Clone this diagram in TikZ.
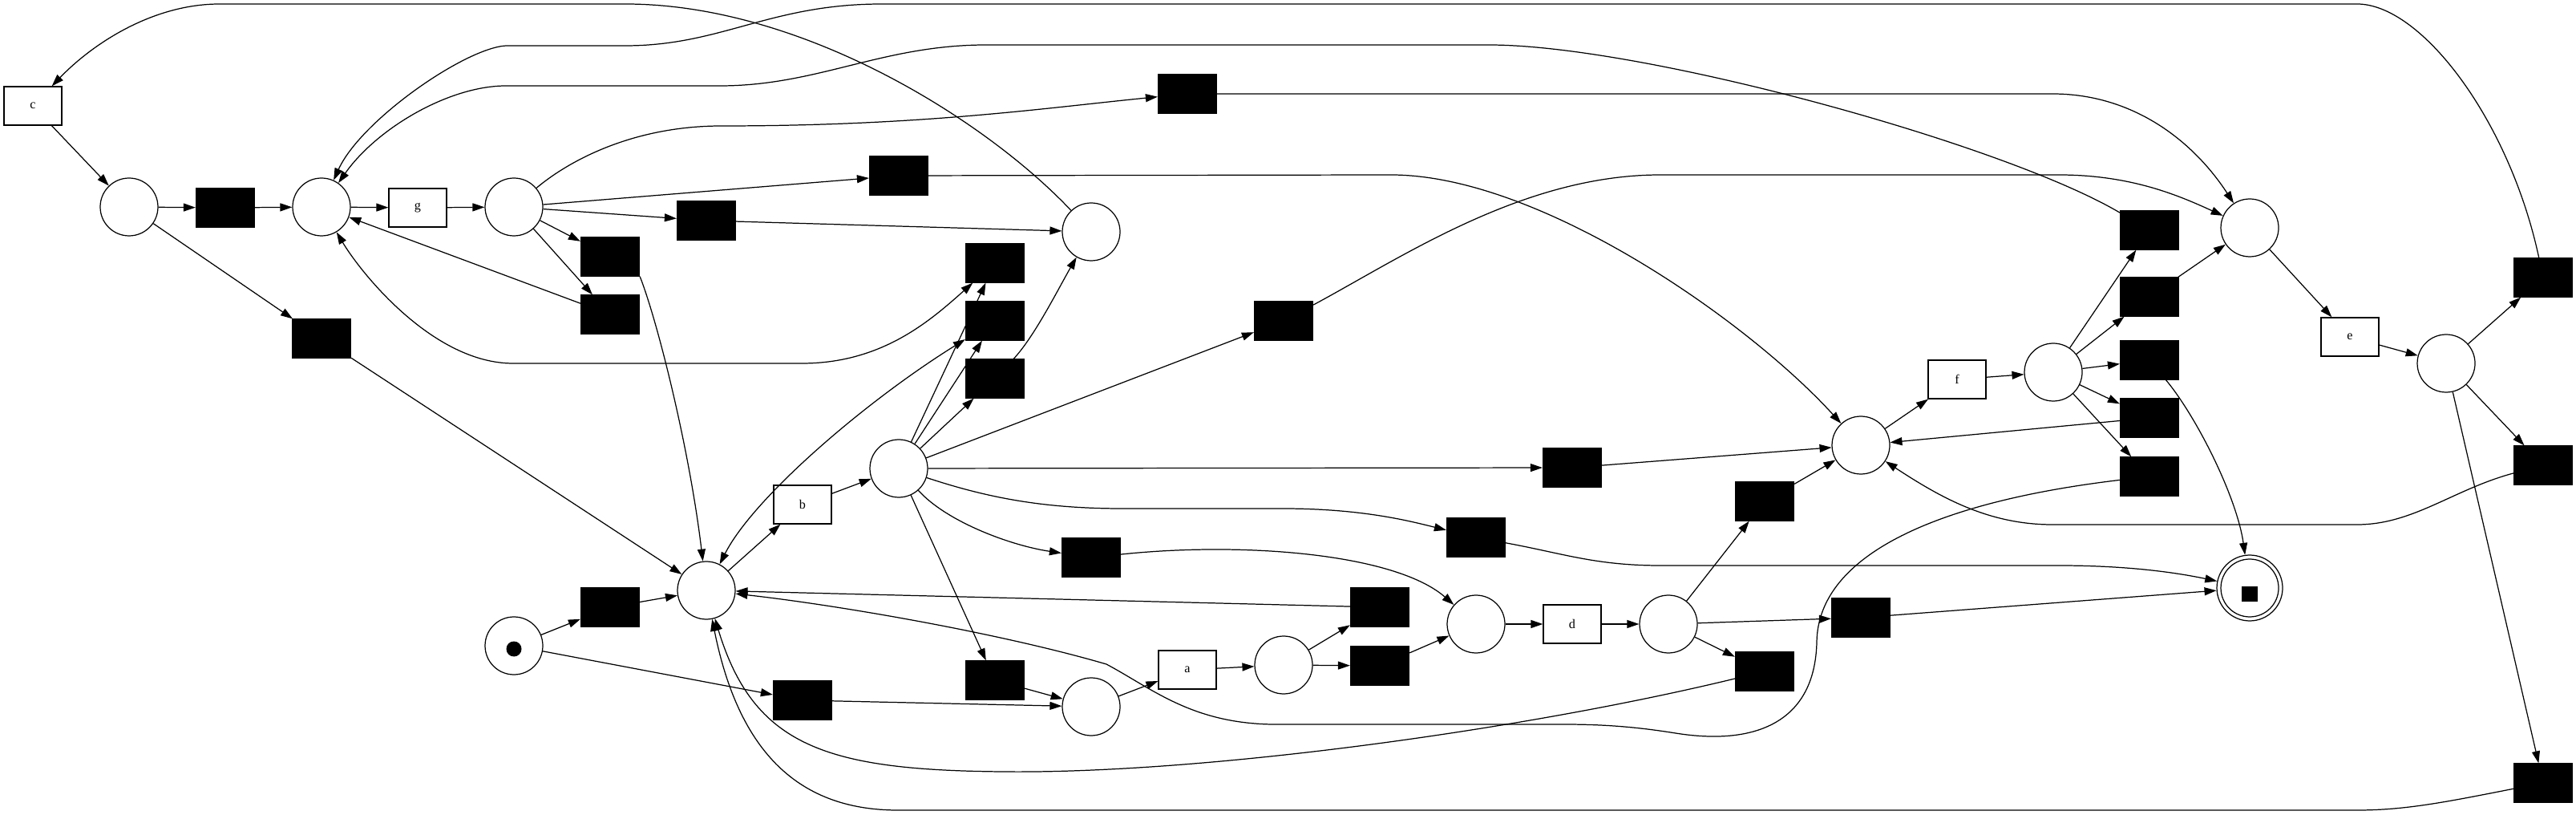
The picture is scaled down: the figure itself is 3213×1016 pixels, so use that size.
\documentclass[tikz,border=0pt]{standalone}
\usepackage{fontspec}
\setmainfont{Liberation Serif}
\usetikzlibrary{arrows.meta}

\begin{document}
\begin{tikzpicture}[x=0.1mm,y=-0.1mm,line width=0.35pt,
  pl/.style={circle,draw,minimum size=7.2mm,inner sep=0pt},
  lab/.style={draw,fill=white,minimum width=7.2mm,minimum height=4.8mm,
    inner sep=0pt,font=\fontsize{4.6}{5.5}\selectfont},
  tau/.style={draw,fill=black,minimum width=7.3mm,minimum height=4.8mm,
    inner sep=0pt},
  flow/.style={-{Triangle[length=1.5mm,width=1mm]}},
  flowboth/.style={{Triangle[length=1.5mm,width=1mm]}-{Triangle[length=1.5mm,width=1mm]}}]
  \useasboundingbox (0,0) rectangle (3213,1016);
  % Places
  \node[pl] (pc)     at (161,258)  {};
  \node[pl] (pg)     at (401,258)  {};
  \node[pl] (pgo)    at (641,258)  {};
  \node[pl] (ptop)   at (1361,289) {};
  \node[pl] (pmain)  at (881,736)  {};
  \node[pl] (pstart) at (641,805)  {};
  \node[circle,fill=black,minimum size=1.9mm,inner sep=0pt]
    (tok) at (641,809) {};
  \node[pl] (pb)     at (1121,584) {};
  \node[pl] (pa)     at (1361,881) {};
  \node[pl] (pao)    at (1601,829) {};
  \node[pl] (pd)     at (1841,778) {};
  \node[pl] (pdo)    at (2081,778) {};
  \node[pl] (pf)     at (2321,555) {};
  \node[pl] (pfo)    at (2561,464) {};
  \node[pl] (pe)     at (2806,284) {};
  \node[pl] (peo)    at (3051,453) {};
  % Final place
  \node[pl,minimum size=8.2mm] (pend) at (2806,733) {};
  \node[pl] (pendin) at (pend) {};
  \node[fill=black,minimum width=2mm,minimum height=1.9mm,inner sep=0pt]
    (endmark) at (2806,740) {};
  % Labelled transitions
  \node[lab] (tc) at (41,132)   {c};
  \node[lab] (tg) at (521,259)  {g};
  \node[lab] (tb) at (1001,629) {b};
  \node[lab] (ta) at (1481,835) {a};
  \node[lab] (td) at (1961,778) {d};
  \node[lab] (tf) at (2441,473) {f};
  \node[lab] (te) at (2931,420) {e};
  % Silent transitions
  \node[tau] (tau1)  at (281,259)  {};
  \node[tau] (tau2)  at (401,422)  {};
  \node[tau] (tau3)  at (761,320)  {};
  \node[tau] (tau4)  at (761,392)  {};
  \node[tau] (tau5)  at (881,275)  {};
  \node[tau] (tau6)  at (1121,219) {};
  \node[tau] (tau7)  at (1481,117) {};
  \node[tau] (tau8)  at (1241,328) {};
  \node[tau] (tau9)  at (1241,400) {};
  \node[tau] (tau10) at (1241,472) {};
  \node[tau] (tau11) at (1601,400) {};
  \node[tau] (tau12) at (1961,583) {};
  \node[tau] (tau13) at (1841,670) {};
  \node[tau] (tau14) at (1361,695) {};
  \node[tau] (tau15) at (1241,848) {};
  \node[tau] (tau16) at (1001,873) {};
  \node[tau] (tau17) at (761,757)  {};
  \node[tau] (tau18) at (1721,757) {};
  \node[tau] (tau19) at (1721,830) {};
  \node[tau] (tau20) at (2201,625) {};
  \node[tau] (tau21) at (2321,770) {};
  \node[tau] (tau22) at (2201,837) {};
  \node[tau] (tau23) at (2681,287) {};
  \node[tau] (tau24) at (2681,370) {};
  \node[tau] (tau25) at (2681,449) {};
  \node[tau] (tau26) at (2681,521) {};
  \node[tau] (tau27) at (2681,594) {};
  \node[tau] (tau28) at (3172,346) {};
  \node[tau] (tau29) at (3172,580) {};
  \node[tau] (tau30) at (3172,976) {};
  % Straight arcs
  \draw[flow] (tc) -- (pc);
  \draw[flow] (pc) -- (tau1);
  \draw[flow] (tau1) -- (pg);
  \draw[flow] (pc) -- (tau2);
  \draw[flow] (tau2) -- (pmain);
  \draw[flow] (pg) -- (tg);
  \draw[flow] (tg) -- (pgo);
  \draw[flow] (pgo) -- (tau3);
  \draw[flow] (pgo) -- (tau4);
  \draw[flow] (tau4) -- (pg);
  \draw[flow] (pgo) -- (tau5);
  \draw[flow] (tau5) -- (ptop);
  \draw[flow] (pgo) -- (tau6);
  \draw[flow] (pmain) -- (tb);
  \draw[flow] (tb) -- (pb);
  \draw[flow] (pb) -- (tau8);
  \draw[flow] (pb) -- (tau9);
  \draw[flow] (pb) -- (tau10);
  \draw[flow] (pb) -- (tau11);
  \draw[flow] (pb) -- (tau12);
  \draw[flow] (tau12) -- (pf);
  \draw[flow] (pb) -- (tau15);
  \draw[flow] (tau15) -- (pa);
  \draw[flow] (pstart) -- (tau17);
  \draw[flow] (tau17) -- (pmain);
  \draw[flow] (pstart) -- (tau16);
  \draw[flow] (tau16) -- (pa);
  \draw[flow] (pa) -- (ta);
  \draw[flow] (ta) -- (pao);
  \draw[flow] (pao) -- (tau18);
  \draw[flow] (pao) -- (tau19);
  \draw[flow] (tau18) -- (pmain);
  \draw[flow] (tau19) -- (pd);
  \draw[flow] (pd) -- (td);
  \draw[flow] (td) -- (pdo);
  \draw[flow] (pdo) -- (tau20);
  \draw[flow] (pdo) -- (tau21);
  \draw[flow] (pdo) -- (tau22);
  \draw[flow] (tau20) -- (pf);
  \draw[flow] (tau21) -- (pend);
  \draw[flow] (pf) -- (tf);
  \draw[flow] (tf) -- (pfo);
  \draw[flow] (pfo) -- (tau23);
  \draw[flow] (pfo) -- (tau24);
  \draw[flow] (pfo) -- (tau25);
  \draw[flow] (pfo) -- (tau26);
  \draw[flow] (pfo) -- (tau27);
  \draw[flow] (tau24) -- (pe);
  \draw[flow] (tau26) -- (pf);
  \draw[flow] (pe) -- (te);
  \draw[flow] (te) -- (peo);
  \draw[flow] (peo) -- (tau28);
  \draw[flow] (peo) -- (tau29);
  \draw[flow] (peo) -- (tau30);
  % Curved arcs, upper part
  \draw[flow] (tau3.south east) .. controls (820,400) and (860,560) .. (pmain);
  \draw[flow] (pgo) .. controls (710,200) and (790,157) .. (900,157)
    .. controls (1150,157) and (1300,135) .. (tau7);
  \draw[flow] (tau6) -- (1735,218)
    .. controls (1920,218) and (2180,400) .. (pf);
  \draw[flow] (tau7) -- (2560,117)
    .. controls (2660,117) and (2735,175) .. (pe);
  \draw[flow] (ptop) .. controls (1230,150) and (1000,5) .. (780,5)
    -- (274,5) .. controls (190,5) and (115,55) .. (tc);
  \draw[flow] (tau28) .. controls (3130,150) and (3020,5) .. (2940,5)
    -- (1100,5) .. controls (960,5) and (900,57) .. (780,57)
    -- (631,57) .. controls (580,60) and (450,150) .. (pg);
  \draw[flow] (tau23) .. controls (2500,180) and (2050,56) .. (1857,56)
    -- (1230,56) .. controls (1100,56) and (1020,107) .. (898,107)
    -- (631,107) .. controls (560,107) and (470,160) .. (pg);
  \draw[flowboth] (pg) .. controls (450,340) and (540,453) .. (640,453)
    -- (1000,453) .. controls (1100,453) and (1160,400) .. (tau8);
  \draw[flowboth] (pmain) .. controls (940,620) and (1080,500) .. (tau9);
  \draw[flow] (tau10) .. controls (1290,420) and (1320,360) .. (ptop);
  \draw[flow] (tau11) .. controls (1750,320) and (1900,218) .. (2071,218)
    -- (2568,218) .. controls (2660,218) and (2720,245) .. (pe);
  % Curved arcs, lower part
  \draw[flow] (pb) .. controls (1230,620) and (1300,634) .. (1400,634)
    -- (1600,634) .. controls (1700,634) and (1760,650) .. (tau13);
  \draw[flow] (tau13) .. controls (1950,690) and (1990,705) .. (2071,705)
    -- (2568,705) .. controls (2660,705) and (2720,715) .. (pend);
  \draw[flow] (pb) .. controls (1180,650) and (1260,680) .. (tau14);
  \draw[flow] (tau14) .. controls (1550,675) and (1740,690) .. (pd);
  \draw[flow] (tau22) .. controls (1900,910) and (1500,965) .. (1250,962)
    .. controls (1030,960) and (940,930) .. (pmain);
  \draw[flow] (tau30) .. controls (3050,1000) and (3000,1010) .. (2940,1010)
    -- (1120,1010) .. controls (990,1010) and (920,930) .. (pmain);
  \draw[flow] (tau27) .. controls (2420,625) and (2268,690) .. (2266,800)
    .. controls (2264,900) and (2190,930) .. (2090,914)
    .. controls (2040,906) and (2000,903) .. (1950,903) -- (1600,903)
    .. controls (1490,905) and (1440,860) .. (1380,828)
    .. controls (1250,790) and (1050,755) .. (pmain);
  \draw[flow] (tau25) .. controls (2740,520) and (2790,620) .. (pend);
  \draw[flow] (tau29) .. controls (3060,610) and (3010,654) .. (2940,654)
    -- (2560,654) .. controls (2480,654) and (2420,620) .. (pf);
\end{tikzpicture}
\end{document}
